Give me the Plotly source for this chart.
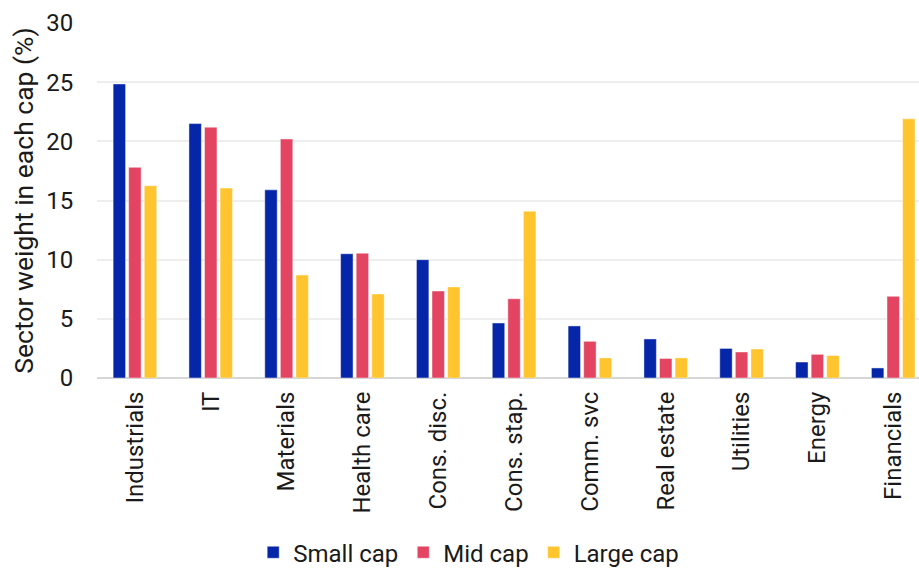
import plotly.graph_objects as go

sectors = ["Industrials", "IT", "Materials", "Health care", "Cons. disc.",
           "Cons. stap.", "Comm. svc", "Real estate", "Utilities", "Energy",
           "Financials"]
small_cap = [24.85, 21.5, 15.9, 10.5, 10.0, 4.65, 4.4, 3.3, 2.5, 1.35, 0.85]
mid_cap = [17.8, 21.2, 20.2, 10.55, 7.35, 6.7, 3.1, 1.65, 2.2, 2.0, 6.9]
large_cap = [16.25, 16.05, 8.7, 7.1, 7.7, 14.1, 1.7, 1.7, 2.45, 1.9, 21.9]

series = [
    ("Small cap", small_cap, "#0626A9"),
    ("Mid cap", mid_cap, "#E24462"),
    ("Large cap", large_cap, "#FFC42E"),
]

font_family = "Roboto, Arial, sans-serif"
text_color = "#1a1a1a"

fig = go.Figure()
for name, vals, color in series:
    fig.add_trace(go.Bar(
        x=sectors, y=vals, name=name,
        marker=dict(color=color, line=dict(color="rgba(255,255,255,0.45)", width=1)),
    ))

fig.update_layout(
    width=919, height=568,
    margin=dict(l=97, r=0, t=23, b=190),
    plot_bgcolor="white", paper_bgcolor="white",
    barmode="group", bargap=0.384, bargroupgap=0.2,
    font=dict(family=font_family, size=24, color=text_color),
    showlegend=True,
    legend=dict(
        orientation="h", xref="container", yref="container",
        x=0.51, y=0.027, xanchor="center", yanchor="middle",
        font=dict(size=24, color=text_color),
        itemwidth=30, tracegroupgap=0,
    ),
    xaxis=dict(
        type="category", range=[-0.5, 10.34],
        tickangle=-90, showgrid=False, showline=False,
        ticks="outside", ticklen=3, tickcolor="rgba(0,0,0,0)",
        tickfont=dict(size=24, color=text_color),
    ),
    yaxis=dict(
        range=[0, 30], dtick=5, showgrid=True, gridcolor="#eeeeee", gridwidth=2,
        zeroline=True, zerolinecolor="#d6d6d6", zerolinewidth=2,
        ticks="outside", ticklen=18, tickcolor="rgba(0,0,0,0)",
        tickfont=dict(size=24, color=text_color),
        title=dict(text="Sector weight in each cap (%)", standoff=4,
                   font=dict(size=26.5, color=text_color)),
    ),
)

fig.write_html("out.html")
